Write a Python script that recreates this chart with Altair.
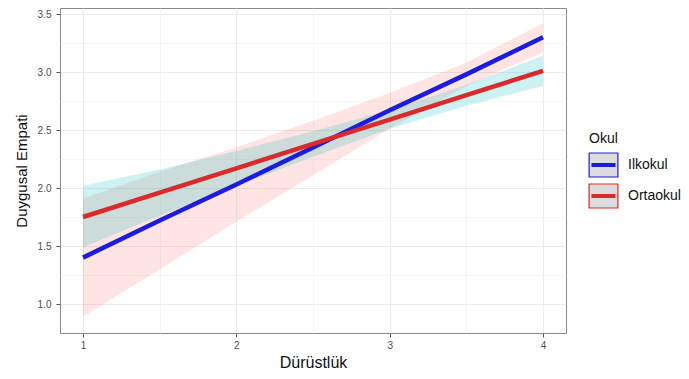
import altair as alt
import pandas as pd

# ---- data ----
groups = ["Ilkokul", "Ortaokul"]
x_vals = [1, 1.5, 2, 2.5, 3, 3.5, 4]

ilk_fit = [1.40, 1.72, 2.03, 2.35, 2.67, 2.98, 3.30]
ilk_lo = [0.89, 1.30, 1.71, 2.11, 2.51, 2.88, 3.17]
ilk_hi = [1.91, 2.14, 2.35, 2.58, 2.82, 3.08, 3.42]

ort_fit = [1.75, 1.96, 2.17, 2.38, 2.59, 2.80, 3.01]
ort_lo = [1.49, 1.76, 2.02, 2.27, 2.51, 2.71, 2.88]
ort_hi = [2.02, 2.16, 2.32, 2.49, 2.67, 2.89, 3.14]

x_ticks = [1, 1.5, 2, 2.5, 3, 3.5, 4]
y_ticks = [1.0, 1.25, 1.5, 1.75, 2.0, 2.25, 2.5, 2.75, 3.0, 3.25, 3.5]
legend_title = ["Okul"]

line_colors = ["#1C1CE0", "#D92B2B"]
band_colors = ["#F8766D", "#00BFC4"]

rows = []
for g, fit, lo, hi in [("Ilkokul", ilk_fit, ilk_lo, ilk_hi),
                       ("Ortaokul", ort_fit, ort_lo, ort_hi)]:
    for xv, f, l, h in zip(x_vals, fit, lo, hi):
        rows.append({"Okul": g, "x": xv, "fit": f, "lo": l, "hi": h})
df = pd.DataFrame(rows)
df_leg = pd.DataFrame({"Okul": groups})
df_title = pd.DataFrame({"t": legend_title})

FONT = "Liberation Sans"

xscale = alt.Scale(domain=[0.85, 4.15], nice=False, zero=False)
yscale = alt.Scale(domain=[0.75, 3.552], nice=False, zero=False)

x_axis = alt.Axis(
    values=x_ticks, format=".0f",
    labelExpr="datum.value % 1 != 0 ? '' : datum.label",
    title="Dürüstlük", titleFont=FONT, titleFontSize=16, titleFontWeight="normal",
    titleColor="#111111", titleY=34, titleX=253, titleBaseline="alphabetic", titleAlign="center",
    labelFont=FONT, labelFontSize=10, labelColor="#4D4D4D", labelPadding=3,
    domain=False, tickSize=4, tickColor="#555555", tickWidth=1,
    tickOpacity={"condition": {"test": "datum.value % 1 != 0", "value": 0}, "value": 1},
    gridColor={"condition": {"test": "datum.value % 1 != 0", "value": "#F2F2F2"}, "value": "#EBEBEB"},
    gridWidth={"condition": {"test": "datum.value % 1 != 0", "value": 0.7}, "value": 1},
)
y_axis = alt.Axis(
    values=y_ticks, format=".1f",
    labelExpr="datum.value % 0.5 != 0 ? '' : datum.label",
    title="Duygusal Empati", titleFont=FONT, titleFontSize=15, titleFontWeight="normal",
    titleColor="#111111", titleAngle=270, titleX=-39, titleY=162.5,
    titleBaseline="middle", titleAlign="center",
    labelFont=FONT, labelFontSize=10, labelColor="#4D4D4D", labelPadding=5,
    domain=False, tickSize=4, tickColor="#555555", tickWidth=1,
    tickOpacity={"condition": {"test": "datum.value % 0.5 != 0", "value": 0}, "value": 1},
    gridColor={"condition": {"test": "datum.value % 0.5 != 0", "value": "#F2F2F2"}, "value": "#EBEBEB"},
    gridWidth={"condition": {"test": "datum.value % 0.5 != 0", "value": 0.7}, "value": 1},
)

band = alt.Chart(df).mark_area(opacity=0.2).encode(
    x=alt.X("x:Q", scale=xscale, axis=x_axis),
    y=alt.Y("lo:Q", scale=yscale, axis=y_axis),
    y2="hi:Q",
    fill=alt.Fill("Okul:N", scale=alt.Scale(domain=groups, range=band_colors), legend=None),
)
line = alt.Chart(df).mark_line(strokeWidth=4.5).encode(
    x=alt.X("x:Q", scale=xscale, axis=x_axis),
    y=alt.Y("fit:Q", scale=yscale, axis=y_axis),
    color=alt.Color("Okul:N", scale=alt.Scale(domain=groups, range=line_colors), legend=None),
)
main = alt.layer(band, line)

# ---- legend drawn as marks ----
ly = alt.Y("Okul:N", scale=alt.Scale(type="point", domain=groups, range=[157, 188], padding=0), axis=None)
lstroke = alt.Stroke("Okul:N", scale=alt.Scale(domain=groups, range=line_colors), legend=None)

key_box = alt.Chart(df_leg).mark_point(
    shape="M-1.2,-1H1.2V1H-1.2Z", size=576, filled=True, fill="#DCDCDC",
    strokeWidth=1.2, opacity=1,
).encode(x=alt.value(543.5), y=ly, stroke=lstroke)

key_line = alt.Chart(df_leg).mark_point(
    shape="M-1,0H1", size=576, filled=False, strokeWidth=4, opacity=1,
).encode(x=alt.value(543.5), y=ly, stroke=lstroke)

key_text = alt.Chart(df_leg).mark_text(
    align="left", baseline="middle", font=FONT, fontSize=14, color="#111111",
).encode(x=alt.value(568), y=ly, text="Okul:N")

key_title = alt.Chart(df_title).mark_text(
    align="left", baseline="middle", font=FONT, fontSize=14, color="#111111",
).encode(x=alt.value(529), y=alt.value(131), text="t:N")

chart = alt.layer(main, key_box, key_line, key_text, key_title).resolve_scale(
    y="independent"
).properties(
    width=506, height=325,
    autosize=alt.AutoSizeParams(type="none"),
    padding={"left": 52, "top": 0, "right": 115, "bottom": 38},
    background="white",
).configure_view(stroke="#8A8A8A", strokeWidth=1)

chart.save("out.html", embed_options={"renderer": "svg", "actions": False})
